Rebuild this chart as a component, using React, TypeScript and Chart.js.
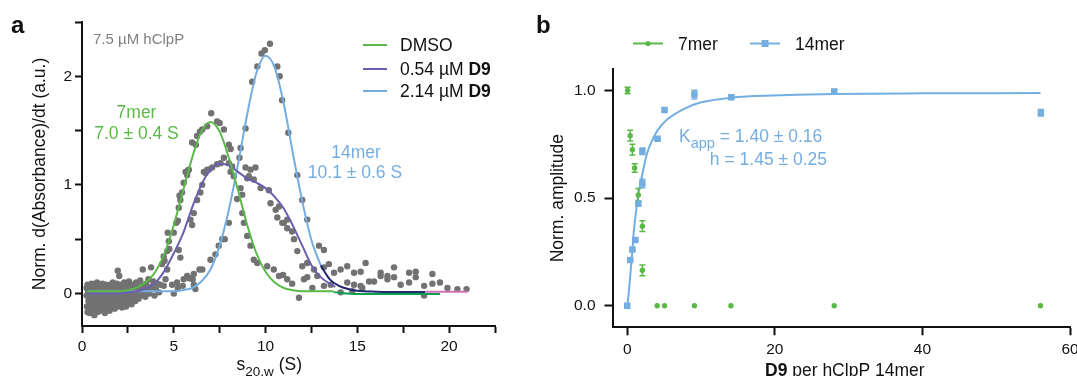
import React, { useEffect, useRef } from "react";
import { Chart, registerables } from "chart.js";

Chart.register(...registerables);

const FONT = '"Liberation Sans", Arial, Helvetica, sans-serif';

// ---------- Panel a data ----------
const DMSO_S = [0.3, 1, 2, 2.5, 3, 3.5, 4, 4.5, 5, 5.5, 6, 6.5, 7, 7.5, 8, 8.5, 9, 9.5, 10, 10.5, 11, 11.5, 12, 13, 13.7];
const DMSO_V = [0.02, 0.02, 0.02, 0.03, 0.055, 0.105, 0.2, 0.37, 0.63, 0.94, 1.25, 1.49, 1.58, 1.49, 1.25, 0.95, 0.63, 0.37, 0.2, 0.1, 0.05, 0.03, 0.02, 0.02, 0.02];
const DMSO_TAIL_S = [13.7, 15, 19.5];
const DMSO_TAIL_V = [0.012, -0.006, -0.006];

const D9LOW_S = [0.3, 1, 2, 2.5, 3, 3.5, 4, 4.5, 5, 5.5, 6, 6.5, 7, 7.5, 8, 8.5, 9, 9.5, 10, 10.5, 11, 11.5, 12, 12.5, 13, 13.5, 13.8];
const D9LOW_V = [0.0, 0.0, 0.0, 0.01, 0.02, 0.05, 0.1, 0.21, 0.37, 0.55, 0.79, 1.0, 1.14, 1.195, 1.18, 1.12, 1.06, 1.02, 0.97, 0.89, 0.78, 0.62, 0.44, 0.26, 0.15, 0.09, 0.06];

const D9HIGH_S = [0.3, 1, 2, 3, 4, 5, 5.5, 6, 6.5, 7, 7.5, 8, 8.5, 9, 9.5, 10, 10.5, 11, 11.5, 12, 12.5, 13];
const D9HIGH_V = [0.02, 0.02, 0.02, 0.02, 0.02, 0.02, 0.03, 0.05, 0.11, 0.22, 0.44, 0.77, 1.19, 1.65, 2.03, 2.19, 2.08, 1.74, 1.28, 0.85, 0.49, 0.26];
const TAIL_NAVY_S = [13, 13.5, 14, 14.5, 15, 16, 17, 18.7];
const TAIL_NAVY_V = [0.26, 0.13, 0.07, 0.04, 0.025, 0.016, 0.014, 0.014];
const TAIL_PINK_S = [18.7, 21];
const TAIL_PINK_V = [0.016, 0.016];

const GRAY_PTS: [number, number][] = [
  [0.25,0.05],[0.25,-0.02],[0.27,-0.12],[0.3,0.08],[0.3,-0.17],[0.32,0.0],[0.35,-0.07],[0.37,0.04],[0.4,-0.13],[0.4,-0.18],
  [0.42,0.07],[0.45,-0.03],[0.48,0.02],[0.5,-0.1],[0.52,0.09],[0.55,-0.15],[0.57,-0.05],[0.6,0.05],[0.62,-0.11],[0.65,0.01],
  [0.67,-0.2],[0.7,0.08],[0.72,-0.08],[0.75,-0.14],[0.77,0.03],[0.8,-0.02],[0.82,0.1],[0.85,-0.17],[0.87,-0.06],[0.9,0.05],
  [0.92,-0.12],[0.95,0.0],[0.97,-0.16],[1.0,0.07],[1.02,-0.04],[1.05,-0.1],[1.07,0.03],[1.1,-0.14],[1.12,0.09],[1.15,-0.07],
  [1.18,0.0],[1.2,-0.12],[1.23,0.05],[1.25,-0.18],[1.28,-0.03],[1.3,0.08],[1.33,-0.09],[1.35,0.02],[1.38,-0.15],[1.4,0.06],
  [1.43,-0.05],[1.45,-0.11],[1.48,0.03],[1.5,-0.16],[1.53,0.08],[1.55,-0.02],[1.58,-0.08],[1.6,0.05],[1.63,-0.13],[1.65,0.0],
  [1.68,0.1],[1.7,-0.06],[1.73,-0.1],[1.75,0.04],[1.78,-0.14],[1.8,0.07],[1.83,-0.03],[1.85,0.02],[1.88,-0.09],[1.9,0.09],
  [1.93,-0.12],[1.95,0.21],[1.97,0.0],[2.0,-0.06],[2.03,0.16],[2.05,0.05],[2.08,-0.1],[2.1,0.01],[2.13,0.08],[2.15,-0.04],
  [2.18,-0.13],[2.2,0.06],[2.23,-0.07],[2.25,0.03],[2.28,-0.02],[2.3,0.1],[2.33,-0.09],[2.36,0.0],[2.4,-0.12],[2.43,0.07],
  [2.46,-0.04],[2.5,0.04],[2.53,-0.08],[2.56,0.11],[2.6,0.0],[2.63,-0.05],[2.66,0.06],[2.7,-0.1],[2.74,0.02],[2.78,0.08],
  [2.82,-0.03],[2.86,0.04],[2.9,-0.07],[2.95,0.1],[3.0,0.0],[3.04,0.06],[3.08,-0.05],[3.12,0.03],[3.17,0.12],[3.22,-0.02],
  [3.27,0.07],[3.31,0.22],[3.35,0.01],[3.4,0.05],[3.45,-0.03],[3.5,0.09],[3.56,0.03],[3.62,0.13],[3.68,0.0],[3.76,0.24],
  [3.8,0.06],[3.88,0.11],[3.95,-0.02],[4.02,0.04],[4.1,0.09],[4.2,0.01],
  [4.27,0.08],[4.36,0.27],[4.45,0.34],[4.45,0.07],[4.55,0.13],[4.5,0.3],[4.64,0.39],[4.64,0.22],[4.67,0.56],[4.73,0.48],
  [4.76,0.41],[4.91,0.08],[5.0,0.56],[5.0,0.0],[5.14,0.65],[5.18,0.1],[5.22,0.67],[5.22,0.05],[5.27,0.4],[5.27,0.79],
  [5.31,0.9],[5.36,0.86],[5.36,0.33],[5.45,0.93],[5.49,0.07],[5.54,1.02],[5.54,0.13],[5.64,1.12],[5.73,1.09],[5.73,0.16],
  [5.76,1.13],[5.82,1.14],[5.85,0.14],[5.91,0.68],[6.0,0.63],[6.0,1.39],[6.03,0.13],[6.09,0.74],[6.09,0.18],[6.09,0.08],
  [6.18,0.04],[6.2,1.37],[6.27,0.86],[6.27,1.45],[6.4,0.22],[6.42,1.49],[6.45,0.93],[6.55,1.0],[6.55,1.51],[6.55,0.22],
  [6.64,1.12],[6.73,1.11],[6.82,1.54],[6.82,1.14],[6.91,1.14],[7.0,0.31],[7.04,1.66],[7.09,1.16],[7.27,0.36],[7.36,1.585],
  [7.36,1.19],[7.45,0.44],[7.5,1.57],[7.55,1.2],[7.64,0.5],[7.73,1.51],[7.73,1.25],[7.78,0.5],[8.0,1.37],[8.0,1.2],
  [8.0,0.65],[8.09,1.12],[8.1,1.33],[8.18,1.17],[8.27,1.08],[8.45,0.87],[8.58,1.25],[8.64,1.34],[8.64,0.97],[8.73,0.91],
  [8.73,0.74],[8.82,0.65],[8.91,1.52],[8.91,1.16],[9.0,0.53],[9.0,1.06],[9.09,1.08],[9.18,1.14],[9.18,0.44],[9.27,1.95],
  [9.36,1.05],[9.36,0.31],[9.45,1.16],[9.55,2.09],[9.55,0.28],[9.73,0.97],[9.78,2.21],[9.96,2.24],[10.09,0.25],[10.18,0.95],
  [10.24,2.3],[10.27,0.83],[10.45,0.22],[10.55,0.77],[10.64,2.09],[10.64,0.7],[10.73,0.8],[10.73,0.16],[10.77,2.0],[10.9,1.78],
  [10.91,0.65],[10.95,0.17],[11.0,0.65],[11.18,0.68],[11.18,0.6],[11.18,0.13],[11.24,1.48],[11.45,0.57],[11.45,0.09],[11.55,0.5],
  [11.73,1.09],[11.73,0.39],[11.82,-0.04],[12.0,0.86],[12.0,0.25],[12.09,0.13],[12.27,0.68],[12.27,0.28],[12.27,0.15],[12.55,0.05],
  [12.64,0.22],[12.82,0.16],[12.91,0.44],[13.18,0.4],[13.18,0.07],[13.18,0.24],[13.45,0.27],[13.55,0.08],[13.73,0.19],[14.09,0.22],
  [14.09,0.01],[14.45,0.25],[14.45,0.1],[14.73,0.02],[14.82,0.19],[14.82,0.08],[15.18,0.2],[15.18,0.07],[15.27,0.05],[15.45,0.28],
  [15.64,0.11],[15.91,0.11],[16.27,0.19],[16.27,0.16],[16.64,0.16],[16.64,0.13],[17.0,0.24],[17.0,0.15],[17.36,0.08],[17.82,0.19],
  [17.82,0.1],[18.18,0.2],[18.18,0.15],[18.64,0.07],[18.64,-0.02],[19.09,0.18],[19.09,0.09],[19.5,0.1],[19.91,0.05],[20.45,0.04],
  [20.95,0.04],
];

const X_TICKS_A = [0, 2.5, 5, 7.5, 10, 12.5, 15, 17.5, 20, 22.5];
const Y_TICKS_A = [0, 0.5, 1, 1.5, 2, 2.5];

// ---------- Panel b data ----------
const MER7_X = [0.05, 0.4, 0.7, 1.0, 1.5, 2.05, 2.05, 4.05, 5.05, 9.1, 14.05, 28.05, 56.0];
const MER7_Y = [1.0, 0.79, 0.725, 0.64, 0.515, 0.37, 0.165, 0, 0, 0, 0, 0, 0];
const MER7_ERR = [0.015, 0.025, 0.025, 0.02, 0.03, 0.025, 0.025, 0, 0, 0, 0, 0, 0];
const MER14_X = [0, 0.4, 0.7, 1.1, 1.5, 2.05, 2.05, 4.1, 5.05, 9.1, 14.1, 28.05, 56.05];
const MER14_Y = [0, 0.213, 0.262, 0.306, 0.475, 0.568, 0.718, 0.776, 0.91, 0.981, 0.969, 0.995, 0.897];
const MER14_ERR = [0, 0.005, 0.005, 0.005, 0.01, 0.02, 0.015, 0.005, 0.005, 0.02, 0.008, 0.01, 0.015];
const FIT_X = [0, 0.2, 0.4, 0.68, 0.9, 1.2, 1.5, 1.8, 2.25, 2.7, 3.4, 4.1, 5.4, 7.7, 9.9, 14.4, 23, 28, 40, 56];
const FIT_Y = [0, 0.06, 0.14, 0.25, 0.35, 0.44, 0.52, 0.57, 0.645, 0.71, 0.77, 0.815, 0.865, 0.915, 0.944, 0.968, 0.98, 0.984, 0.987, 0.988];
const X_TICKS_B = [0, 20, 40, 60];
const Y_TICKS_B = [0, 0.5, 1.0];

// colours
const GREEN = "#5ab946";
const PURPLE = "#6a5fb0";
const BLUE = "#74aee0";
const NAVY = "#1f2a70";
const DKGREEN = "#0aa050";
const PINK = "#d46fb6";
const GRAY = "#727272";

const pts = (xs: number[], ys: number[]) => xs.map((x, i) => ({ x, y: ys[i] }));

function txt(ctx: CanvasRenderingContext2D, s: string, x: number, y: number, size: number, color: string, align: CanvasTextAlign = "left", bold = false) {
  ctx.save();
  ctx.font = `${bold ? "bold " : ""}${size}px ${FONT}`;
  ctx.fillStyle = color;
  ctx.textAlign = align;
  ctx.textBaseline = "alphabetic";
  ctx.fillText(s, x, y);
  const w = ctx.measureText(s).width;
  ctx.restore();
  return w;
}
function hline(ctx: CanvasRenderingContext2D, x1: number, x2: number, y: number, color: string, w = 2) {
  ctx.save();
  ctx.strokeStyle = color;
  ctx.lineWidth = w;
  ctx.beginPath();
  ctx.moveTo(x1, y);
  ctx.lineTo(x2, y);
  ctx.stroke();
  ctx.restore();
}

const curve = (data: any, color: string, order: number) => ({
  data,
  showLine: true,
  borderColor: color,
  borderWidth: 2,
  pointRadius: 0,
  cubicInterpolationMode: "monotone",
  order,
});

const axisCommon = (ticks: number[], fmt: (v: number) => string, size: number, tickLen: number, pad: number) => ({
  type: "linear",
  afterBuildTicks: (s: any) => {
    s.ticks = ticks.map((v) => ({ value: v }));
  },
  grid: { display: true, drawOnChartArea: false, drawTicks: true, tickLength: tickLen, tickWidth: 2, tickColor: "#111" },
  border: { display: true, color: "#111", width: 2 },
  ticks: { callback: (v: any) => fmt(Number(v)), font: { family: FONT, size }, color: "#111", padding: pad, maxRotation: 0, autoSkip: false },
});

export default function App() {
  const refA = useRef<HTMLCanvasElement>(null);
  const refB = useRef<HTMLCanvasElement>(null);

  useEffect(() => {
    const textA = {
      id: "textA",
      afterDraw(chart: any) {
        const ctx = chart.ctx as CanvasRenderingContext2D;
        txt(ctx, "a", 11, 33, 24, "#111", "left", true);
        txt(ctx, "7.5 µM hClpP", 93, 44, 15, "#808080");
        // legend
        hline(ctx, 363, 387, 45, GREEN);
        hline(ctx, 363, 387, 69, PURPLE);
        hline(ctx, 363, 387, 91, BLUE);
        txt(ctx, "DMSO", 400, 51, 17.5, "#111");
        let w = txt(ctx, "0.54 µM ", 400, 75, 17.5, "#111");
        txt(ctx, "D9", 400 + w, 75, 17.5, "#111", "left", true);
        w = txt(ctx, "2.14 µM ", 400, 97, 17.5, "#111");
        txt(ctx, "D9", 400 + w, 97, 17.5, "#111", "left", true);
        // annotations
        txt(ctx, "7mer", 136.5, 118, 17.5, GREEN, "center");
        txt(ctx, "7.0 ± 0.4 S", 136.5, 139, 17.5, GREEN, "center");
        txt(ctx, "14mer", 356, 158, 17.5, BLUE, "center");
        txt(ctx, "10.1 ± 0.6 S", 355, 177.5, 17.5, BLUE, "center");
        // x title
        let x = 236.5;
        x += txt(ctx, "s", x, 370, 17.5, "#111");
        x += txt(ctx, "20,w", x, 376, 13.5, "#111");
        txt(ctx, " (S)", x, 370, 17.5, "#111");
      },
    };

    const chartA = new Chart(refA.current as HTMLCanvasElement, {
      type: "scatter",
      data: {
        datasets: [
          curve(pts(TAIL_PINK_S, TAIL_PINK_V), PINK, 0),
          curve(pts(DMSO_TAIL_S, DMSO_TAIL_V), DKGREEN, 0),
          curve(pts(TAIL_NAVY_S, TAIL_NAVY_V), NAVY, 0),
          curve(pts(DMSO_S, DMSO_V), GREEN, 1),
          curve(pts(D9LOW_S, D9LOW_V), PURPLE, 2),
          curve(pts(D9HIGH_S, D9HIGH_V), BLUE, 3),
          {
            data: GRAY_PTS.map(([x, y]) => ({ x, y })),
            pointRadius: 3.2,
            pointBackgroundColor: GRAY,
            pointBorderWidth: 0,
            order: 10,
          },
        ] as any,
      },
      options: {
        responsive: false,
        animation: false,
        layout: { padding: { left: 0, top: 22, right: 582, bottom: 0 } },
        plugins: { legend: { display: false }, tooltip: { enabled: false } },
        scales: {
          x: {
            ...axisCommon(X_TICKS_A, (v) => (v % 5 === 0 ? String(v) : ""), 15.5, 7, 4),
            min: 0,
            max: 22.5,
            afterFit: (s: any) => {
              s.height = 50;
              s.paddingLeft = 0;
              s.paddingRight = 0;
            },
          },
          y: {
            ...axisCommon(Y_TICKS_A, (v) => (Number.isInteger(v) ? String(v) : ""), 15.5, 7, 3),
            min: -0.3,
            max: 2.5,
            title: { display: true, text: "Norm. d(Absorbance)/dt (a.u.)", font: { family: FONT, size: 17.5 }, color: "#111", padding: { top: 30, bottom: 0 } },
            afterFit: (s: any) => {
              s.width = 82;
              s.paddingTop = 0;
              s.paddingBottom = 0;
            },
          },
        } as any,
      },
      plugins: [textA],
    });

    const textB = {
      id: "textB",
      afterDatasetsDraw(chart: any) {
        const ctx = chart.ctx as CanvasRenderingContext2D;
        const xs = chart.scales.x;
        const ys = chart.scales.y;
        const bars = [
          { X: MER7_X, Y: MER7_Y, E: MER7_ERR, c: GREEN },
          { X: MER14_X, Y: MER14_Y, E: MER14_ERR, c: BLUE },
        ];
        ctx.save();
        ctx.lineWidth = 1.5;
        bars.forEach((b) => {
          ctx.strokeStyle = b.c;
          b.X.forEach((xv, i) => {
            if (!b.E[i]) return;
            const px = xs.getPixelForValue(xv);
            const y1 = ys.getPixelForValue(b.Y[i] + b.E[i]);
            const y2 = ys.getPixelForValue(b.Y[i] - b.E[i]);
            ctx.beginPath();
            ctx.moveTo(px, y1);
            ctx.lineTo(px, y2);
            ctx.moveTo(px - 3, y1);
            ctx.lineTo(px + 3, y1);
            ctx.moveTo(px - 3, y2);
            ctx.lineTo(px + 3, y2);
            ctx.stroke();
          });
        });
        ctx.restore();
      },
      afterDraw(chart: any) {
        const ctx = chart.ctx as CanvasRenderingContext2D;
        txt(ctx, "b", 536, 33, 24, "#111", "left", true);
        // legend
        hline(ctx, 633, 663, 43.5, GREEN);
        ctx.save();
        ctx.fillStyle = GREEN;
        ctx.beginPath();
        ctx.arc(648, 43.5, 2.6, 0, Math.PI * 2);
        ctx.fill();
        ctx.restore();
        txt(ctx, "7mer", 678, 50, 17.5, "#111");
        hline(ctx, 750, 780, 43.5, BLUE);
        ctx.save();
        ctx.fillStyle = BLUE;
        ctx.fillRect(761.5, 40, 7, 7);
        ctx.restore();
        txt(ctx, "14mer", 795, 50, 17.5, "#111");
        // annotation
        let x = 679;
        x += txt(ctx, "K", x, 142, 17.5, BLUE);
        x += txt(ctx, "app", x, 148, 14.5, BLUE);
        txt(ctx, " = 1.40 ± 0.16", x, 142, 17.5, BLUE);
        txt(ctx, "h = 1.45 ± 0.25", 827, 165, 17.5, BLUE, "right");
        // x title
        const w = txt(ctx, "D9", 765, 376, 17.5, "#111", "left", true);
        txt(ctx, " per hClpP 14mer", 765 + w, 376, 17.5, "#111");
      },
    };

    const chartB = new Chart(refB.current as HTMLCanvasElement, {
      type: "scatter",
      data: {
        datasets: [
          {
            data: pts(MER7_X, MER7_Y),
            pointRadius: 2.7,
            pointStyle: "circle",
            pointBackgroundColor: GREEN,
            pointBorderWidth: 0,
            order: 1,
          },
          {
            data: pts(MER14_X, MER14_Y),
            pointRadius: 4.6,
            pointStyle: "rect",
            pointBackgroundColor: BLUE,
            pointBorderWidth: 0,
            order: 2,
          },
          curve(pts(FIT_X, FIT_Y), BLUE, 3),
        ] as any,
      },
      options: {
        responsive: false,
        animation: false,
        layout: { padding: { left: 540, top: 69, right: 7, bottom: 0 } },
        plugins: { legend: { display: false }, tooltip: { enabled: false } },
        scales: {
          x: {
            ...axisCommon(X_TICKS_B, (v) => String(v), 15.5, 8, 5),
            min: -2,
            max: 60,
            afterFit: (s: any) => {
              s.height = 48.7;
              s.paddingLeft = 0;
              s.paddingRight = 0;
            },
          },
          y: {
            ...axisCommon(Y_TICKS_B, (v) => v.toFixed(1), 15.5, 8, 9),
            min: -0.1,
            max: 1.1,
            title: { display: true, text: "Norm. amplitude", font: { family: FONT, size: 17.5 }, color: "#111", padding: { top: 7.5, bottom: 0 } },
            afterFit: (s: any) => {
              s.width = 72.5;
              s.paddingTop = 0;
              s.paddingBottom = 0;
            },
          },
        } as any,
      },
      plugins: [textB],
    });

    return () => {
      chartA.destroy();
      chartB.destroy();
    };
  }, []);

  return (
    <div style={{ position: "absolute", left: 0, top: 0, width: 1077, height: 376, background: "#fff", overflow: "hidden" }}>
      <canvas ref={refA} width={1077} height={376} style={{ position: "absolute", left: 0, top: 0, width: 1077, height: 376 }} />
      <canvas ref={refB} width={1077} height={376} style={{ position: "absolute", left: 0, top: 0, width: 1077, height: 376 }} />
    </div>
  );
}
